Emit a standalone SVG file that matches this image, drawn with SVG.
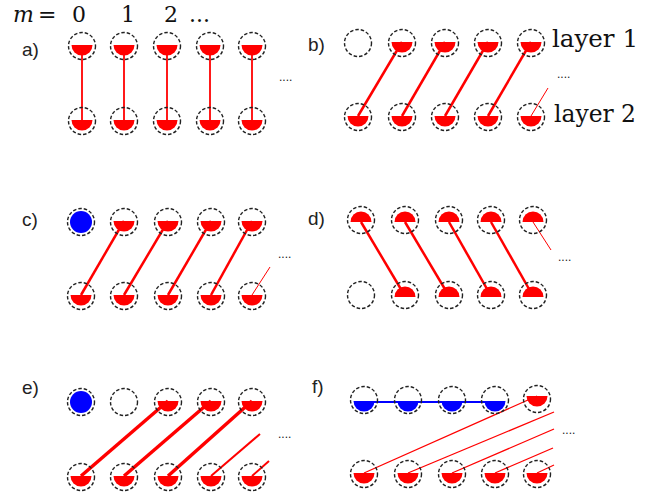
<svg xmlns="http://www.w3.org/2000/svg" xmlns:xlink="http://www.w3.org/1999/xlink" width="666" height="495" viewBox="0 0 666 495">
<style>
.ring{fill:none;stroke:#222;stroke-width:1.4;stroke-dasharray:3.5 2}
.red{fill:#ff0000}
.blue{fill:#0000ff}
.lbl{font-family:"Liberation Sans",Arial,sans-serif;font-size:19px;fill:#222}
.ser{font-family:"DejaVu Serif","Liberation Serif",serif;fill:#111}
.dots{font-family:"Liberation Sans",Arial,sans-serif;font-size:12px;fill:#222}
.c{stroke:#ff0000;fill:none;stroke-linecap:butt}
.w15{stroke-width:1.8}
.w25{stroke-width:2.5}
.w35{stroke-width:3.5}
.w1{stroke-width:1}
.w13{stroke-width:1.3}
.w2{stroke-width:2}
</style>
<defs>
<path id="bowl" d="M-10.5,0 A10.5,10.5 0 0 0 10.5,0 Z"/>
<path id="dome" d="M-10.5,0 A10.5,10.5 0 0 1 10.5,0 Z"/>
</defs>

<g id="title" class="ser" font-size="22">
<text x="13" y="22" font-style="italic">m</text>
<text x="38" y="22">=</text>
<text x="79" y="22" text-anchor="middle">0</text>
<text x="128" y="22" text-anchor="middle">1</text>
<text x="171" y="22" text-anchor="middle">2</text>
<text x="189" y="22">...</text>
</g>

<g id="labels">
<text class="lbl" x="22" y="56">a)</text>
<text class="lbl" x="308" y="51">b)</text>
<text class="lbl" x="22" y="226">c)</text>
<text class="lbl" x="308" y="225">d)</text>
<text class="lbl" x="22" y="394">e)</text>
<text class="lbl" x="312" y="393">f)</text>
<text class="ser" x="552" y="47" font-size="25" textLength="86" lengthAdjust="spacingAndGlyphs">layer 1</text>
<text class="ser" x="554" y="122" font-size="25" textLength="82" lengthAdjust="spacingAndGlyphs">layer 2</text>
<text class="dots" x="279" y="81">....</text>
<text class="dots" x="557" y="78">....</text>
<text class="dots" x="278" y="258">....</text>
<text class="dots" x="558" y="261">....</text>
<text class="dots" x="278" y="438">....</text>
<text class="dots" x="562" y="434">....</text>
</g>

<g id="connectors">
<!-- a -->
<line class="c w15" x1="82" y1="45" x2="82" y2="120"/>
<line class="c w15" x1="124" y1="45" x2="124" y2="120"/>
<line class="c w15" x1="167" y1="45" x2="167" y2="120"/>
<line class="c w15" x1="210" y1="45" x2="210" y2="120"/>
<line class="c w15" x1="252" y1="45" x2="252" y2="120"/>
<!-- b -->
<line class="c w25" x1="402" y1="42" x2="358" y2="116"/>
<line class="c w25" x1="445" y1="42" x2="402" y2="116"/>
<line class="c w25" x1="488" y1="42" x2="445" y2="116"/>
<line class="c w25" x1="531" y1="42" x2="488" y2="116"/>
<line class="c w1" x1="531" y1="116" x2="548" y2="88"/>
<!-- c -->
<line class="c w25" x1="124" y1="221" x2="81" y2="295"/>
<line class="c w25" x1="168" y1="221" x2="124" y2="295"/>
<line class="c w25" x1="211" y1="221" x2="168" y2="295"/>
<line class="c w25" x1="252" y1="221" x2="211" y2="295"/>
<line class="c w1" x1="252" y1="295" x2="270" y2="267"/>
<!-- d -->
<line class="c w25" x1="361" y1="222" x2="405" y2="296"/>
<line class="c w25" x1="405" y1="222" x2="449" y2="296"/>
<line class="c w25" x1="449" y1="222" x2="491" y2="296"/>
<line class="c w25" x1="491" y1="222" x2="533" y2="296"/>
<line class="c w1" x1="533" y1="222" x2="551" y2="250"/>
<!-- e -->
<line class="c w35" x1="168" y1="401" x2="81" y2="476"/>
<line class="c w35" x1="211" y1="401" x2="124" y2="476"/>
<line class="c w35" x1="252" y1="401" x2="168" y2="476"/>
<line class="c w2" x1="211" y1="476" x2="260" y2="434"/>
<line class="c w2" x1="252" y1="476" x2="269" y2="461"/>
<!-- f -->
<line x1="364" y1="402" x2="495" y2="402" stroke="#0000ff" stroke-width="2"/>
<line class="c w13" x1="364" y1="473" x2="537" y2="396"/>
<line class="c w13" x1="408" y1="473" x2="554" y2="412"/>
<line class="c w13" x1="452" y1="473" x2="554" y2="429"/>
<line class="c w13" x1="495" y1="473" x2="553" y2="448"/>
<line class="c w13" x1="537" y1="473" x2="554" y2="465"/>
</g>

<g id="panel-a">
<g id="a-t0"><circle class="ring" cx="82" cy="46" r="13.5"/><use xlink:href="#bowl" class="red" x="82" y="45"/></g>
<g id="a-t1"><circle class="ring" cx="124" cy="46" r="13.5"/><use xlink:href="#bowl" class="red" x="124" y="45"/></g>
<g id="a-t2"><circle class="ring" cx="167" cy="46" r="13.5"/><use xlink:href="#bowl" class="red" x="167" y="45"/></g>
<g id="a-t3"><circle class="ring" cx="210" cy="46" r="13.5"/><use xlink:href="#bowl" class="red" x="210" y="45"/></g>
<g id="a-t4"><circle class="ring" cx="252" cy="46" r="13.5"/><use xlink:href="#bowl" class="red" x="252" y="45"/></g>
<g id="a-b0"><circle class="ring" cx="82" cy="121" r="13.5"/><use xlink:href="#bowl" class="red" x="82" y="120"/></g>
<g id="a-b1"><circle class="ring" cx="124" cy="121" r="13.5"/><use xlink:href="#bowl" class="red" x="124" y="120"/></g>
<g id="a-b2"><circle class="ring" cx="167" cy="121" r="13.5"/><use xlink:href="#bowl" class="red" x="167" y="120"/></g>
<g id="a-b3"><circle class="ring" cx="210" cy="121" r="13.5"/><use xlink:href="#bowl" class="red" x="210" y="120"/></g>
<g id="a-b4"><circle class="ring" cx="252" cy="121" r="13.5"/><use xlink:href="#bowl" class="red" x="252" y="120"/></g>
</g>

<g id="panel-b">
<g id="b-t0"><circle class="ring" cx="358" cy="43" r="13.5"/></g>
<g id="b-t1"><circle class="ring" cx="402" cy="43" r="13.5"/><use xlink:href="#bowl" class="red" x="402" y="42"/></g>
<g id="b-t2"><circle class="ring" cx="445" cy="43" r="13.5"/><use xlink:href="#bowl" class="red" x="445" y="42"/></g>
<g id="b-t3"><circle class="ring" cx="488" cy="43" r="13.5"/><use xlink:href="#bowl" class="red" x="488" y="42"/></g>
<g id="b-t4"><circle class="ring" cx="531" cy="43" r="13.5"/><use xlink:href="#bowl" class="red" x="531" y="42"/></g>
<g id="b-b0"><circle class="ring" cx="358" cy="117" r="13.5"/><use xlink:href="#bowl" class="red" x="358" y="116"/></g>
<g id="b-b1"><circle class="ring" cx="402" cy="117" r="13.5"/><use xlink:href="#bowl" class="red" x="402" y="116"/></g>
<g id="b-b2"><circle class="ring" cx="445" cy="117" r="13.5"/><use xlink:href="#bowl" class="red" x="445" y="116"/></g>
<g id="b-b3"><circle class="ring" cx="488" cy="117" r="13.5"/><use xlink:href="#bowl" class="red" x="488" y="116"/></g>
<g id="b-b4"><circle class="ring" cx="531" cy="117" r="13.5"/><use xlink:href="#bowl" class="red" x="531" y="116"/></g>
</g>

<g id="panel-c">
<g id="c-t0"><circle class="ring" cx="81" cy="222" r="13.5"/><circle class="blue" cx="81" cy="222" r="11"/></g>
<g id="c-t1"><circle class="ring" cx="124" cy="222" r="13.5"/><use xlink:href="#bowl" class="red" x="124" y="221"/></g>
<g id="c-t2"><circle class="ring" cx="168" cy="222" r="13.5"/><use xlink:href="#bowl" class="red" x="168" y="221"/></g>
<g id="c-t3"><circle class="ring" cx="211" cy="222" r="13.5"/><use xlink:href="#bowl" class="red" x="211" y="221"/></g>
<g id="c-t4"><circle class="ring" cx="252" cy="222" r="13.5"/><use xlink:href="#bowl" class="red" x="252" y="221"/></g>
<g id="c-b0"><circle class="ring" cx="81" cy="296" r="13.5"/><use xlink:href="#bowl" class="red" x="81" y="295"/></g>
<g id="c-b1"><circle class="ring" cx="124" cy="296" r="13.5"/><use xlink:href="#bowl" class="red" x="124" y="295"/></g>
<g id="c-b2"><circle class="ring" cx="168" cy="296" r="13.5"/><use xlink:href="#bowl" class="red" x="168" y="295"/></g>
<g id="c-b3"><circle class="ring" cx="211" cy="296" r="13.5"/><use xlink:href="#bowl" class="red" x="211" y="295"/></g>
<g id="c-b4"><circle class="ring" cx="252" cy="296" r="13.5"/><use xlink:href="#bowl" class="red" x="252" y="295"/></g>
</g>

<g id="panel-d">
<g id="d-t0"><circle class="ring" cx="361" cy="220" r="13.5"/><use xlink:href="#dome" class="red" x="361" y="222"/></g>
<g id="d-t1"><circle class="ring" cx="405" cy="220" r="13.5"/><use xlink:href="#dome" class="red" x="405" y="222"/></g>
<g id="d-t2"><circle class="ring" cx="449" cy="220" r="13.5"/><use xlink:href="#dome" class="red" x="449" y="222"/></g>
<g id="d-t3"><circle class="ring" cx="491" cy="220" r="13.5"/><use xlink:href="#dome" class="red" x="491" y="222"/></g>
<g id="d-t4"><circle class="ring" cx="533" cy="220" r="13.5"/><use xlink:href="#dome" class="red" x="533" y="222"/></g>
<g id="d-b0"><circle class="ring" cx="361" cy="295" r="13.5"/></g>
<g id="d-b1"><circle class="ring" cx="405" cy="295" r="13.5"/><use xlink:href="#dome" class="red" x="405" y="297"/></g>
<g id="d-b2"><circle class="ring" cx="449" cy="295" r="13.5"/><use xlink:href="#dome" class="red" x="449" y="297"/></g>
<g id="d-b3"><circle class="ring" cx="491" cy="295" r="13.5"/><use xlink:href="#dome" class="red" x="491" y="297"/></g>
<g id="d-b4"><circle class="ring" cx="533" cy="295" r="13.5"/><use xlink:href="#dome" class="red" x="533" y="297"/></g>
</g>

<g id="panel-e">
<g id="e-t0"><circle class="ring" cx="81" cy="402" r="13.5"/><circle class="blue" cx="81" cy="402" r="11"/></g>
<g id="e-t1"><circle class="ring" cx="124" cy="402" r="13.5"/></g>
<g id="e-t2"><circle class="ring" cx="168" cy="402" r="13.5"/><use xlink:href="#bowl" class="red" x="168" y="401"/></g>
<g id="e-t3"><circle class="ring" cx="211" cy="402" r="13.5"/><use xlink:href="#bowl" class="red" x="211" y="401"/></g>
<g id="e-t4"><circle class="ring" cx="252" cy="402" r="13.5"/><use xlink:href="#bowl" class="red" x="252" y="401"/></g>
<g id="e-b0"><circle class="ring" cx="81" cy="477" r="13.5"/><use xlink:href="#bowl" class="red" x="81" y="476"/></g>
<g id="e-b1"><circle class="ring" cx="124" cy="477" r="13.5"/><use xlink:href="#bowl" class="red" x="124" y="476"/></g>
<g id="e-b2"><circle class="ring" cx="168" cy="477" r="13.5"/><use xlink:href="#bowl" class="red" x="168" y="476"/></g>
<g id="e-b3"><circle class="ring" cx="211" cy="477" r="13.5"/><use xlink:href="#bowl" class="red" x="211" y="476"/></g>
<g id="e-b4"><circle class="ring" cx="252" cy="477" r="13.5"/><use xlink:href="#bowl" class="red" x="252" y="476"/></g>
</g>

<g id="panel-f">
<g id="f-t0"><circle class="ring" cx="364" cy="400" r="13.5"/><use xlink:href="#bowl" class="blue" x="364" y="401"/></g>
<g id="f-t1"><circle class="ring" cx="408" cy="400" r="13.5"/><use xlink:href="#bowl" class="blue" x="408" y="401"/></g>
<g id="f-t2"><circle class="ring" cx="452" cy="400" r="13.5"/><use xlink:href="#bowl" class="blue" x="452" y="401"/></g>
<g id="f-t3"><circle class="ring" cx="495" cy="400" r="13.5"/><use xlink:href="#bowl" class="blue" x="495" y="401"/></g>
<g id="f-t4"><circle class="ring" cx="537" cy="399" r="13.5"/><use xlink:href="#bowl" class="red" x="537" y="396"/></g>
<g id="f-b0"><circle class="ring" cx="364" cy="474" r="13.5"/><use xlink:href="#bowl" class="red" x="364" y="473"/></g>
<g id="f-b1"><circle class="ring" cx="408" cy="474" r="13.5"/><use xlink:href="#bowl" class="red" x="408" y="473"/></g>
<g id="f-b2"><circle class="ring" cx="452" cy="474" r="13.5"/><use xlink:href="#bowl" class="red" x="452" y="473"/></g>
<g id="f-b3"><circle class="ring" cx="495" cy="474" r="13.5"/><use xlink:href="#bowl" class="red" x="495" y="473"/></g>
<g id="f-b4"><circle class="ring" cx="537" cy="474" r="13.5"/><use xlink:href="#bowl" class="red" x="537" y="473"/></g>
</g>
</svg>
